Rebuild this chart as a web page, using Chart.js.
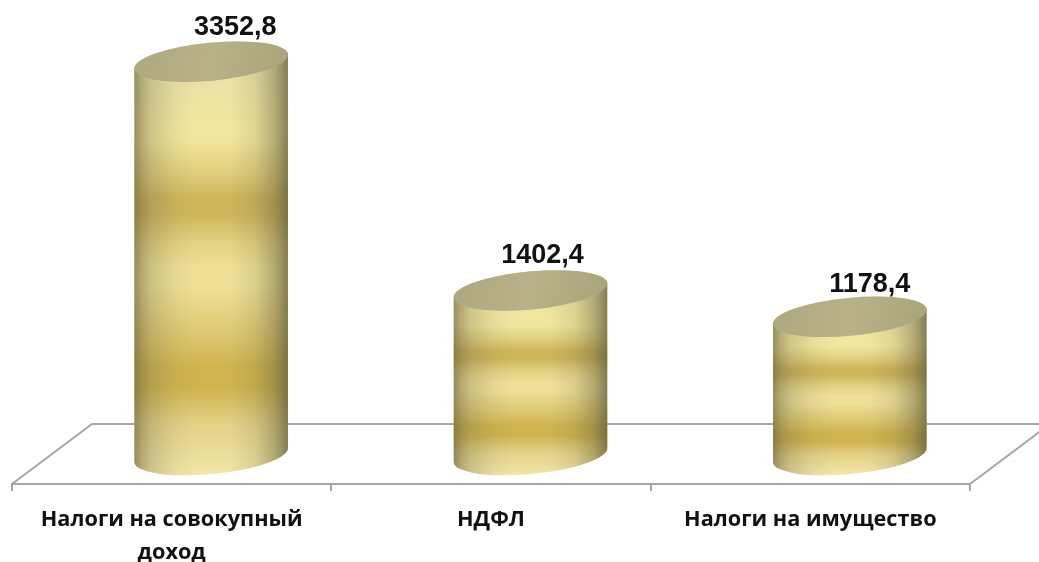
<!DOCTYPE html>
<html>
<head>
<meta charset="utf-8">
<script src="https://cdn.jsdelivr.net/npm/chart.js@4"></script>
<style>
  html, body { margin: 0; padding: 0; background: #fff; }
  canvas { display: block; }
</style>
</head>
<body>
<canvas id="chart" width="1039" height="562"></canvas>
<script>
const categories = [["Налоги на совокупный", "доход"], "НДФЛ", "Налоги на имущество"];
const taxValues = [3352.8, 1402.4, 1178.4];

const DEPTH_X = 80, DEPTH_Y = 60; // fake 3d floor
const SHIFT_X = 39.5; // cylinders stand in the middle of the floor depth
const TILT = (5.5 * Math.PI) / 180;
const CAP_RY = 19;
const GRID = "#a6a6a6";

// gold bands are the same for every cylinder, stretched to its height
const bandStops = [
  [0, "#e6dfa8"], [0.15, "#f2e69e"], [0.19, "#f2e69e"], [0.27, "#e0ce7c"], [0.33, "#ceb55a"], [0.37, "#ceb55a"], [0.44, "#e3d282"],
  [0.5, "#eee097"], [0.55, "#eee097"], [0.66, "#ddc870"], [0.74, "#cfb34e"], [0.79, "#cfb34e"], [0.88, "#e3d287"], [1, "#f1e5a8"],
];
const edgeStops = [
  [0, "rgba(100,95,60,0.66)"], [0.05, "rgba(105,100,65,0.44)"], [0.11, "rgba(110,105,70,0.27)"], [0.27, "rgba(120,115,80,0.07)"], [0.4, "rgba(120,115,80,0)"],
  [0.62, "rgba(120,115,80,0)"], [0.78, "rgba(110,105,70,0.14)"], [0.91, "rgba(100,95,60,0.42)"], [1, "rgba(90,85,55,0.72)"],
];

const floorPlugin = {
  id: "floor",
  beforeDatasetsDraw(chart) {
    const { ctx, chartArea: { left, right, bottom } } = chart;
    ctx.save();
    ctx.strokeStyle = GRID;
    ctx.lineWidth = 2;
    ctx.beginPath();
    ctx.moveTo(left, bottom);
    ctx.lineTo(left + DEPTH_X, bottom - DEPTH_Y);
    ctx.lineTo(right + DEPTH_X, bottom - DEPTH_Y);
    ctx.lineTo(right, bottom);
    ctx.stroke();
    ctx.restore();
  },
};

const cylinderPlugin = {
  id: "cylinders",
  afterDatasetsDraw(chart) {
    const ctx = chart.ctx;
    chart.getDatasetMeta(0).data.forEach((bar) => {
      const { x, y, base, width } = bar.getProps(["x", "y", "base", "width"], true);
      const cx = x + SHIFT_X;
      const rx = width / 2 + 0.5;

      ctx.save();
      ctx.beginPath();
      ctx.ellipse(cx, base, rx, CAP_RY, -TILT, 0, Math.PI);
      ctx.ellipse(cx, y, rx, CAP_RY, -TILT, Math.PI, 2 * Math.PI);
      ctx.closePath();
      ctx.clip();

      const bands = ctx.createLinearGradient(0, y, 0, base + CAP_RY);
      bandStops.forEach(([at, c]) => bands.addColorStop(at, c));
      ctx.fillStyle = bands;
      ctx.fillRect(cx - rx - 2, y - 30, 2 * rx + 4, base - y + 70);

      const edges = ctx.createLinearGradient(cx - rx, 0, cx + rx, 0);
      edgeStops.forEach(([at, c]) => edges.addColorStop(at, c));
      ctx.fillStyle = edges;
      ctx.fillRect(cx - rx - 2, y - 30, 2 * rx + 4, base - y + 70);
      ctx.restore();

      // top of the cylinder
      const cap = ctx.createLinearGradient(cx - rx, y - CAP_RY, cx + rx, y + CAP_RY);
      cap.addColorStop(0, "#aea780");
      cap.addColorStop(0.5, "#b8b18a");
      cap.addColorStop(1, "#a9a37a");
      ctx.fillStyle = cap;
      ctx.beginPath();
      ctx.ellipse(cx, y, rx, CAP_RY, -TILT, 0, 2 * Math.PI);
      ctx.fill();
    });
  },
};

const valueLabelPlugin = {
  id: "valueLabels",
  afterDatasetsDraw(chart, args, opts) {
    const ctx = chart.ctx;
    ctx.save();
    ctx.fillStyle = "#111";
    ctx.font = 'bold 27px "Liberation Sans", Arial, sans-serif';
    ctx.textAlign = "center";
    ctx.textBaseline = "middle";
    chart.getDatasetMeta(0).data.forEach((bar, i) => {
      const text = taxValues[i].toFixed(1).replace(".", ",");
      ctx.fillText(text, bar.x + SHIFT_X + opts.dx[i], bar.y - opts.dy[i]);
    });
    ctx.restore();
  },
};

new Chart(document.getElementById("chart"), {
  type: "bar",
  data: {
    labels: categories,
    datasets: [
      {
        data: taxValues,
        backgroundColor: "transparent",
        barPercentage: 0.48,
        categoryPercentage: 1,
      },
    ],
  },
  options: {
    responsive: false,
    animation: false,
    devicePixelRatio: 1,
    layout: { padding: { left: 12, right: 69, top: 0, bottom: 0 } },
    scales: {
      x: {
        afterFit: (scale) => { scale.height = 78; },
        grid: { drawOnChartArea: false, color: GRID, lineWidth: 2, tickLength: 7 },
        border: { color: GRID, width: 2 },
        ticks: {
          color: "#111",
          padding: 12,
          maxRotation: 0,
          font: { family: '"Open Sans"', size: 21.7, weight: "bold", lineHeight: 1.52 },
        },
      },
      y: { display: false, min: -247, max: 3879 },
    },
    plugins: {
      legend: { display: false },
      tooltip: { enabled: false },
      valueLabels: { dx: [24, 12, 20], dy: [34, 35, 32] },
    },
  },
  plugins: [floorPlugin, cylinderPlugin, valueLabelPlugin],
});
</script>
</body>
</html>
